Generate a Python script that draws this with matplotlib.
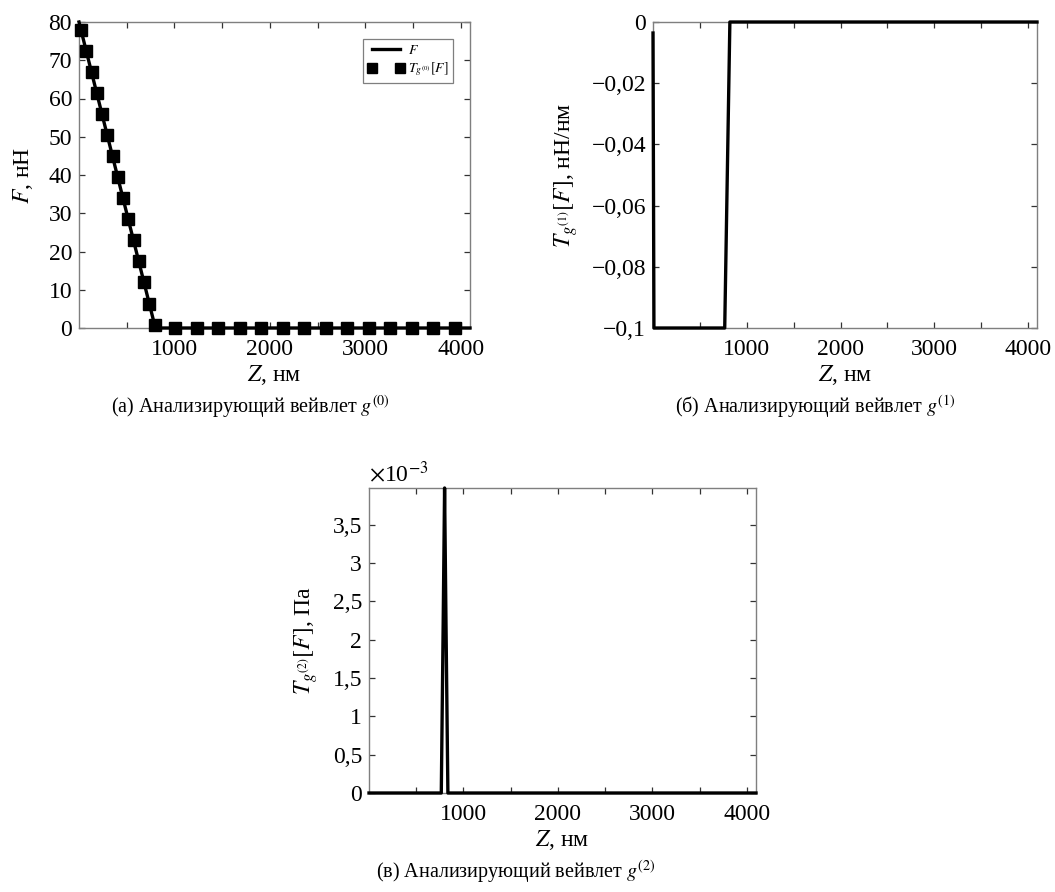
import matplotlib
matplotlib.use("Agg")
import matplotlib.pyplot as plt
from matplotlib.ticker import FixedLocator

plt.rcParams['font.family'] = ['Liberation Serif', 'DejaVu Serif']
plt.rcParams['mathtext.fontset'] = 'stix'

# ---------------- data ----------------
# panel (a): force curve and its g(0) transform (markers)
z_f = [0, 800, 4096]
f_vals = [80, 0, 0]
z_t0 = [21, 76, 131, 186, 241, 296, 351, 406, 461, 516, 571, 626, 681, 736, 791,
        1010, 1235, 1460, 1685, 1910, 2135, 2360, 2585, 2810, 3035, 3260, 3485,
        3710, 3935]
t0_vals = [77.9, 72.4, 66.9, 61.4, 55.9, 50.4, 44.9, 39.4, 33.9, 28.4, 22.9, 17.4,
           11.9, 6.4, 0.9, 0, 0, 0, 0, 0, 0, 0, 0, 0, 0, 0, 0, 0, 0]

# panel (b): g(1) transform
z_t1 = [0, 10, 765, 820, 4096]
t1_vals = [-0.0036, -0.1, -0.1, 0, 0]

# panel (c): g(2) transform
z_t2 = [0, 765, 785, 800, 815, 835, 4096]
t2_vals = [0, 0, 0.0022, 0.00398, 0.0022, 0, 0]

x_ticks = [500, 1000, 1500, 2000, 2500, 3000, 3500, 4000]
x_labels = ['', '1000', '', '2000', '', '3000', '', '4000']
ya_ticks = [0, 10, 20, 30, 40, 50, 60, 70, 80]
ya_labels = ['0', '10', '20', '30', '40', '50', '60', '70', '80']
yb_ticks = [-0.1, -0.08, -0.06, -0.04, -0.02, 0]
yb_labels = ['−0,1', '−0,08', '−0,06', '−0,04', '−0,02', '0']
yc_ticks = [0, 0.0005, 0.001, 0.0015, 0.002, 0.0025, 0.003, 0.0035]
yc_labels = ['0', '0,5', '1', '1,5', '2', '2,5', '3', '3,5']

W, H = 1055, 892
fig = plt.figure(figsize=(W / 100, H / 100), dpi=100)

def add_ax(l, r, t, b):
    return fig.add_axes([l / W, 1 - b / H, (r - l) / W, (b - t) / H])

ax_a = add_ax(79, 470, 22, 328)
ax_b = add_ax(653, 1037, 22, 328)
ax_c = add_ax(369, 756, 488, 793)

TICK_FS = 17
LAB_FS = 17
CAP_FS = 14.5
LW = 2.4

def style(ax):
    for s in ax.spines.values():
        s.set_color('#7f7f7f')
        s.set_linewidth(1.0)
    ax.tick_params(direction='in', length=4, width=0.9, color='#333333',
                   top=True, right=True, labelsize=TICK_FS, pad=5)
    ax.tick_params(axis='x', pad=8)
    ax.set_xlim(0, 4096)
    ax.xaxis.set_major_locator(FixedLocator(x_ticks))
    ax.set_xticklabels(x_labels)
    ax.set_xlabel('$Z$, нм', fontsize=LAB_FS, labelpad=2)

# (a)
ax_a.plot(z_f, f_vals, color='black', lw=LW, clip_on=False, label='$F$', zorder=3)
ax_a.plot(z_t0, t0_vals, ls='None', marker='s', ms=8, color='black',
          clip_on=False, label='$T_{g^{(0)}}[F]$', zorder=4)
style(ax_a)
ax_a.set_ylim(0, 80)
ax_a.set_yticks(ya_ticks)
ax_a.set_yticklabels(ya_labels)
ax_a.set_ylabel('$F$, нН', fontsize=LAB_FS, labelpad=10)
leg = ax_a.legend(loc='upper right', bbox_to_anchor=(0.975, 0.968), fontsize=10,
                  numpoints=2, fancybox=False, framealpha=1, edgecolor='#7f7f7f',
                  handlelength=2.6, handletextpad=0.3, borderpad=0.35,
                  labelspacing=0.3, markerscale=0.85)
leg.get_frame().set_linewidth(0.9)

# (b)
ax_b.plot(z_t1, t1_vals, color='black', lw=LW, clip_on=False, zorder=3)
style(ax_b)
ax_b.set_ylim(-0.1, 0)
ax_b.set_yticks(yb_ticks)
ax_b.set_yticklabels(yb_labels)
ax_b.set_ylabel('$T_{g^{(1)}}[F]$, нН/нм', fontsize=LAB_FS, labelpad=8)

# (c)
ax_c.plot(z_t2, t2_vals, color='black', lw=LW, clip_on=False, zorder=3)
style(ax_c)
ax_c.set_ylim(0, 0.00398)
ax_c.set_yticks(yc_ticks)
ax_c.set_yticklabels(yc_labels)
ax_c.set_ylabel('$T_{g^{(2)}}[F]$, Па', fontsize=LAB_FS, labelpad=9)
ax_c.text(0, 1.005, r'$\times$10$^{-3}$', transform=ax_c.transAxes,
          ha='left', va='bottom', fontsize=TICK_FS)

# captions
fig.text(250 / W, 1 - 407 / H, '(а) Анализирующий вейвлет $g^{(0)}$',
         ha='center', va='center', fontsize=CAP_FS)
fig.text(815 / W, 1 - 407 / H, '(б) Анализирующий вейвлет $g^{(1)}$',
         ha='center', va='center', fontsize=CAP_FS)
fig.text(516 / W, 1 - 872 / H, '(в) Анализирующий вейвлет $g^{(2)}$',
         ha='center', va='center', fontsize=CAP_FS)

fig.savefig('out.png', dpi=100)
